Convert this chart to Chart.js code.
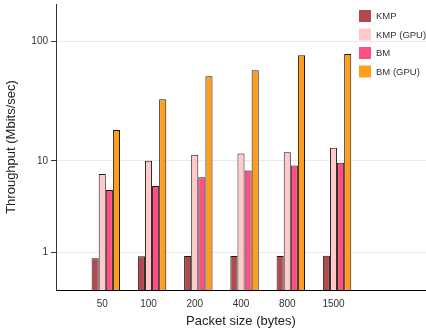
<!DOCTYPE html>
<html>
<head>
<meta charset="utf-8">
<script src="https://cdn.jsdelivr.net/npm/chart.js@4"></script>
<style>
  html, body { margin: 0; padding: 0; background: #fff; }
  #wrap { width: 426px; height: 332px; }
</style>
</head>
<body>
<div id="wrap"><canvas id="chart" width="426" height="332"></canvas></div>
<script>
// Данные графика
const packetSizes = ['', '50', '100', '200', '400', '800', '1500', '', ''];
const kmp    = [null, 0.80, 0.87, 0.88, 0.88, 0.88, 0.89, null, null];
const kmpGpu = [null, 7.6, 10.0, 11.3, 11.6, 11.9, 13.0, null, null];
const bm     = [null, 5.4, 5.9, 7.1, 8.2, 9.1, 9.6, null, null];
const bmGpu  = [null, 18.5, 33.5, 52, 58, 77, 79, null, null];
const yTickLabels = [1, 10, 100];

// шкала log10(1 + x)
const tr = v => v == null ? null : Math.log10(1 + v);

Chart.defaults.font.family = '"Liberation Sans", Arial, sans-serif';
Chart.defaults.color = '#333';

const series = [
    { label: '', data: packetSizes.map(() => null), color: 'rgba(0,0,0,0)' },
    { label: 'KMP', data: kmp, color: '#b04a4f' },
    { label: 'KMP (GPU)', data: kmpGpu, color: '#ffcaca' },
    { label: 'BM', data: bm, color: '#ff4f80' },
    { label: 'BM (GPU)', data: bmGpu, color: '#ff9e1e' }
];

// убираем автоматические отступы осей
const noPad = scale => {
    scale.paddingTop = 0;
    scale.paddingBottom = 0;
    scale.paddingLeft = 0;
    scale.paddingRight = 0;
};

// Легенда внутри области графика
const insideLegend = {
    id: 'insideLegend',
    afterDraw(chart) {
        const ctx = chart.ctx;
        const x = chart.chartArea.right - 67;
        ctx.save();
        ctx.font = '9.5px "Liberation Sans", Arial, sans-serif';
        ctx.textBaseline = 'middle';
        chart.data.datasets.slice(1).forEach((ds, i) => {
            const y = 10 + i * 18.5;
            ctx.fillStyle = ds.backgroundColor;
            ctx.fillRect(x, y, 12, 12);
            ctx.fillStyle = '#333';
            ctx.fillText(ds.label, x + 17, y + 6.5);
        });
        ctx.restore();
    }
};

new Chart(document.getElementById('chart'), {
    type: 'bar',
    data: {
        labels: packetSizes,
        datasets: series.map(s => ({
            label: s.label,
            data: s.data.map(tr),
            backgroundColor: s.color,
            borderColor: '#1a1a1a',
            borderWidth: 1,
            categoryPercentage: 0.768,
            barPercentage: 1.0
        }))
    },
    options: {
        responsive: false,
        animation: false,
        layout: { padding: { top: 4, right: 0, left: 0, bottom: 0 } },
        plugins: {
            legend: { display: false },
            tooltip: { enabled: false }
        },
        scales: {
            x: {
                offset: false,
                grid: { display: false, drawTicks: false },
                border: { display: true, color: '#000', width: 1 },
                ticks: { autoSkip: false, maxRotation: 0, padding: 8, font: { size: 10 }, color: '#333' },
                title: { display: true, text: 'Packet size (bytes)', font: { size: 13 }, color: '#222', padding: { top: 2, bottom: 3 } },
                afterFit(scale) { scale.height = 42; noPad(scale); }
            },
            y: {
                min: 0,
                max: 2.306,
                afterBuildTicks(scale) {
                    scale.ticks = yTickLabels.map(v => ({ value: tr(v) }));
                },
                ticks: {
                    padding: 3,
                    font: { size: 10 },
                    color: '#333',
                    callback: (value, index) => yTickLabels[index]
                },
                grid: { color: '#ebebeb', lineWidth: 1, tickLength: 5, tickColor: '#333' },
                border: { display: true, color: '#333', width: 1 },
                title: { display: true, text: 'Throughput (Mbits/sec)', font: { size: 13 }, color: '#222', padding: { top: 4, bottom: 4 } },
                afterFit(scale) { scale.width = 56; noPad(scale); }
            }
        }
    },
    plugins: [insideLegend]
});
</script>
</body>
</html>
